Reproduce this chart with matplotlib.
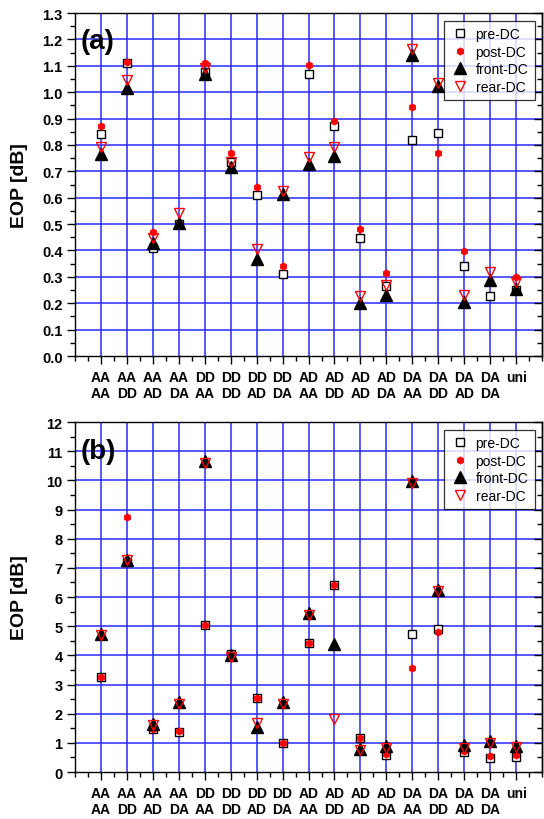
import matplotlib
matplotlib.use("Agg")
import matplotlib.pyplot as plt
from matplotlib.ticker import MultipleLocator, NullFormatter

plt.rcParams["font.family"] = ["Liberation Sans", "DejaVu Sans"]

# categories (two-line labels) shared by both panels
top_row = ["AA", "AA", "AA", "AA", "DD", "DD", "DD", "DD",
           "AD", "AD", "AD", "AD", "DA", "DA", "DA", "DA", "uni"]
bottom_row = ["AA", "DD", "AD", "DA", "AA", "DD", "AD", "DA",
              "AA", "DD", "AD", "DA", "AA", "DD", "AD", "DA", ""]
positions = list(range(1, 18))

# panel (a) values [dB]
a_pre = [0.84, 1.11, 0.41, 0.50, 1.075, 0.737, 0.61, 0.31,
         1.07, 0.87, 0.447, 0.265, 0.817, 0.844, 0.343, 0.226, 0.249]
a_post = [0.873, 1.116, 0.47, 0.50, 1.111, 0.77, 0.64, 0.343,
          1.104, 0.892, 0.482, 0.314, 0.943, 0.771, 0.398, 0.28, 0.299]
a_front = [0.766, 1.015, 0.428, 0.504, 1.069, 0.716, 0.369, 0.615,
           0.728, 0.760, 0.202, 0.232, 1.141, 1.022, 0.204, 0.287, 0.255]
a_rear = [0.791, 1.046, 0.447, 0.541, 1.09, 0.735, 0.404, 0.624,
          0.753, 0.791, 0.226, 0.268, 1.164, 1.035, 0.232, 0.318, 0.28]

# panel (b) values [dB]
b_pre = [3.26, 7.2, 1.49, 1.37, 5.03, 4.06, 2.54, 0.99,
         4.42, 6.4, 1.17, 0.59, 4.74, 4.91, 0.69, 0.48, 0.51]
b_post = [3.26, 8.74, 1.49, 1.39, 5.03, 4.0, 2.54, 0.99,
          4.42, 6.4, 1.17, 0.63, 3.57, 4.8, 0.71, 0.55, 0.57]
b_front = [4.74, 7.28, 1.66, 2.4, 10.65, 4.0, 1.54, 2.4,
           5.45, 4.4, 0.8, 0.88, 9.97, 6.23, 0.91, 1.05, 0.88]
b_rear = [4.69, 7.28, 1.6, 2.34, 10.6, 3.94, 1.69, 2.34,
          5.37, 1.81, 0.74, 0.82, 9.92, 6.19, 0.82, 1.0, 0.86]

GRID = "#2a2aff"


def draw_panel(ax, pre, post, front, rear, ymax, major, minor, fmt, tag):
    ax.set_xlim(0, 18)
    ax.set_ylim(0, ymax)
    for x in positions:
        ax.axvline(x, color=GRID, lw=1.1, zorder=0)
    y = major
    while y < ymax - 1e-9:
        ax.axhline(y, color=GRID, lw=1.1, zorder=0)
        y += major

    ax.plot(positions, pre, ls="none", marker="s", ms=6.3, mfc="white",
            mec="black", mew=1.0, label="pre-DC", zorder=3)
    ax.plot(positions, post, ls="none", marker="h", ms=5.3, mfc="red",
            mec="red", mew=0.5, label="post-DC", zorder=4)
    ax.plot(positions, front, ls="none", marker="^", ms=8.5, mfc="black",
            mec="black", label="front-DC", zorder=5)
    ax.plot(positions, rear, ls="none", marker="v", ms=6.5, mfc="none",
            mec="red", mew=1.0, label="rear-DC", zorder=6)

    ax.set_xticks(positions)
    ax.set_xticklabels([f"{t}\n{b}" for t, b in zip(top_row, bottom_row)],
                       fontsize=10, fontweight="bold", linespacing=1.2)
    ax.xaxis.set_minor_locator(MultipleLocator(0.5))
    ax.yaxis.set_major_locator(MultipleLocator(major))
    ax.yaxis.set_minor_locator(MultipleLocator(minor))
    ax.yaxis.set_major_formatter(fmt)
    for lab in ax.get_yticklabels():
        lab.set_fontweight("bold")
        lab.set_fontsize(10.5)

    ax.tick_params(axis="x", which="major", direction="out", length=6,
                   width=1, pad=4)
    ax.tick_params(axis="x", which="minor", direction="out", length=3.5,
                   width=1)
    ax.tick_params(axis="y", which="major", direction="out", length=6,
                   width=1, pad=3)
    ax.tick_params(axis="y", which="minor", direction="out", length=3.5,
                   width=1)

    # inward ticks on the right side
    sec = ax.secondary_yaxis("right")
    sec.yaxis.set_major_locator(MultipleLocator(major))
    sec.yaxis.set_minor_locator(MultipleLocator(minor))
    sec.yaxis.set_major_formatter(NullFormatter())
    sec.tick_params(which="major", direction="in", length=6, width=1)
    sec.tick_params(which="minor", direction="in", length=3.5, width=1)
    sec.spines["right"].set_linewidth(1.0)

    for sp in ax.spines.values():
        sp.set_linewidth(1.0)

    ax.set_ylabel("EOP [dB]", fontsize=14, fontweight="bold")
    ax.yaxis.set_label_coords(-0.10, 0.5)
    ax.text(0.012, 0.955, tag, transform=ax.transAxes, fontsize=20,
            fontweight="bold", ha="left", va="top")

    leg = ax.legend(loc="upper right", bbox_to_anchor=(0.99, 0.985),
                    fontsize=10, frameon=True, fancybox=False,
                    handletextpad=0.5, borderpad=0.45, labelspacing=0.25,
                    handlelength=1.3, borderaxespad=0.2)
    leg.get_frame().set_edgecolor("black")
    leg.get_frame().set_linewidth(0.9)
    leg.set_zorder(10)


fig = plt.figure(figsize=(5.44, 8.2), dpi=100)
ax_a = fig.add_axes([0.1379, 0.5646, 0.8585, 0.4183])
ax_b = fig.add_axes([0.1379, 0.0573, 0.8585, 0.4268])

draw_panel(ax_a, a_pre, a_post, a_front, a_rear, 1.3, 0.1, 0.05, "{x:.1f}", "(a)")
draw_panel(ax_b, b_pre, b_post, b_front, b_rear, 12, 1, 0.5, "{x:.0f}", "(b)")

fig.savefig("out.png", dpi=100)
